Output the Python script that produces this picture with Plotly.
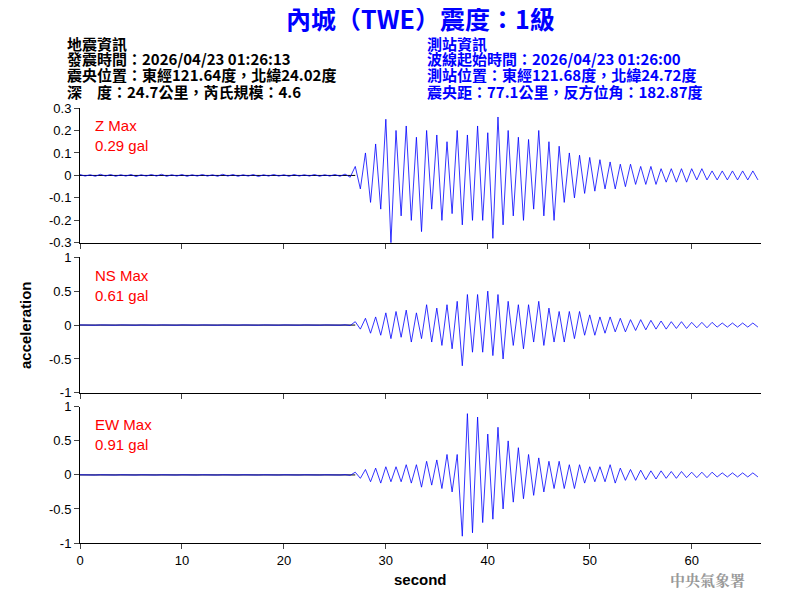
import plotly.graph_objects as go
from plotly.subplots import make_subplots

DT = 0.5  # sample spacing (s) of the envelope readings below

z_pre = [0.004,-0.003,0.003,-0.004,0.005,-0.003,0.004,-0.004,0.003,-0.003,
         0.004,-0.005,0.003,-0.003,0.004,-0.003,0.005,-0.004,0.003,-0.003,
         0.004,-0.004,0.003,-0.003,0.004,-0.003,0.003,-0.004,0.005,-0.003,
         0.004,-0.004,0.003,-0.003,0.004,-0.005,0.003,-0.003,0.004,-0.003,
         0.003,-0.004,0.004,-0.003,0.003,-0.003,0.004,-0.004,0.003,-0.003,
         0.004,-0.004,0.006,-0.008]
z_post = [0.04,-0.06,0.1,-0.12,
          0.14,-0.15,0.25,-0.3,
          0.2,-0.18,0.22,-0.2,0.17,-0.25,0.2,-0.15,
          0.18,-0.2,0.15,-0.17,0.2,-0.22,0.18,-0.2,
          0.22,-0.2,0.19,-0.28,0.26,-0.22,0.2,-0.18,
          0.17,-0.2,0.16,-0.15,0.2,-0.18,0.15,-0.2,
          0.13,-0.12,0.1,-0.1,0.09,-0.08,0.08,-0.07,
          0.07,-0.06,0.06,-0.06,0.05,-0.05,0.05,-0.04,
          0.04,-0.04,0.04,-0.04,0.03,-0.03,0.03,-0.03,
          0.03,-0.03,0.03,-0.02,0.03,-0.02,0.02,-0.02,
          0.02,-0.02,0.02,-0.02,0.02,-0.02,0.02,-0.02]

ns_pre = [0.002,-0.002]*26 + [0.004,-0.006]
ns_post = [0.05,-0.06,0.1,-0.12,
           0.12,-0.15,0.18,-0.2,
           0.2,-0.18,0.22,-0.25,0.18,-0.2,0.3,-0.25,
           0.25,-0.3,0.3,-0.35,0.35,-0.6,0.45,-0.4,
           0.45,-0.4,0.5,-0.45,0.45,-0.5,0.35,-0.3,
           0.3,-0.35,0.3,-0.25,0.35,-0.3,0.25,-0.25,
           0.2,-0.25,0.2,-0.2,0.2,-0.15,0.15,-0.15,
           0.12,-0.12,0.12,-0.1,0.1,-0.1,0.08,-0.08,
           0.08,-0.07,0.07,-0.06,0.06,-0.06,0.05,-0.05,
           0.05,-0.05,0.04,-0.04,0.04,-0.04,0.04,-0.03,
           0.03,-0.03,0.03,-0.03,0.03,-0.03,0.03,-0.03]

ew_pre = [0.002,-0.002]*26 + [0.004,-0.006]
ew_post = [0.04,-0.05,0.08,-0.1,
           0.1,-0.12,0.12,-0.1,
           0.12,-0.1,0.15,-0.12,0.15,-0.18,0.2,-0.15,
           0.22,-0.2,0.3,-0.25,0.3,-0.9,0.9,-0.85,
           0.85,-0.7,0.6,-0.65,0.7,-0.5,0.5,-0.4,
           0.4,-0.35,0.3,-0.3,0.25,-0.25,0.2,-0.2,
           0.2,-0.2,0.15,-0.2,0.15,-0.12,0.12,-0.1,
           0.12,-0.1,0.15,-0.12,0.1,-0.08,0.08,-0.08,
           0.07,-0.07,0.06,-0.06,0.06,-0.05,0.05,-0.05,
           0.05,-0.04,0.04,-0.04,0.04,-0.04,0.04,-0.03,
           0.03,-0.03,0.03,-0.03,0.03,-0.03,0.03,-0.03]

traces = [("Z Max", "0.29 gal", z_pre + z_post, 0.3, [-0.3,-0.2,-0.1,0,0.1,0.2,0.3]),
          ("NS Max", "0.61 gal", ns_pre + ns_post, 1, [-1,-0.5,0,0.5,1]),
          ("EW Max", "0.91 gal", ew_pre + ew_post, 1, [-1,-0.5,0,0.5,1])]

fig = make_subplots(rows=3, cols=1, shared_xaxes=True, vertical_spacing=0.033)
for i, (lab, val, ys, lim, ticks) in enumerate(traces, start=1):
    xs = [k * DT for k in range(len(ys))]
    fig.add_trace(go.Scatter(x=[0, 27], y=[0, 0], mode="lines",
                             line=dict(color="black", width=1), showlegend=False), row=i, col=1)
    fig.add_trace(go.Scatter(x=xs, y=ys, mode="lines",
                             line=dict(color="#0000ff", width=0.8), showlegend=False), row=i, col=1)
    fig.update_yaxes(range=[-lim, lim], tickvals=ticks,
                     ticktext=[("%g" % t) for t in ticks], row=i, col=1)

fig.update_yaxes(showline=True, linecolor="black", ticks="outside", ticklen=5, automargin=False,
                 showgrid=False, zeroline=False, tickfont=dict(size=13, color="black"))
fig.update_xaxes(showline=True, linecolor="black", ticks="outside", ticklen=5, automargin=False,
                 showgrid=False, zeroline=False, range=[0, 66.8], dtick=10,
                 tickfont=dict(size=13, color="black"))
fig.update_xaxes(showticklabels=True, row=3, col=1)
fig.update_layout(yaxis=dict(domain=[0.69, 1]), yaxis2=dict(domain=[0.345, 0.657]),
                  yaxis3=dict(domain=[0, 0.313]))

F = "Noto Sans CJK TC"
ann = [
    dict(x=0.5, y=1.207, text="<b>內城（TWE）震度：1級</b>", font=dict(size=25, color="#0000ff", family=F), xanchor="center"),
]
left = ["地震資訊", "發震時間：2026/04/23 01:26:13", "震央位置：東經121.64度，北緯24.02度", "深　度：24.7公里，芮氏規模：4.6"]
right = ["測站資訊", "波線起始時間：2026/04/23 01:26:00", "測站位置：東經121.68度，北緯24.72度", "震央距：77.1公里，反方位角：182.87度"]
ys_txt = [1.149, 1.113, 1.076, 1.039]
for t, yy in zip(left, ys_txt):
    ann.append(dict(x=-0.022, y=yy, text="<b>" + t + "</b>", xanchor="left", font=dict(size=15, color="black", family=F)))
for t, yy in zip(right, ys_txt):
    ann.append(dict(x=0.507, y=yy, text="<b>" + t + "</b>", xanchor="left", font=dict(size=15, color="#0000ff", family=F)))
for (lab, val, *_), top in zip(traces, [0.985, 0.640, 0.296]):
    ann.append(dict(x=0.019, y=top, text=lab + "<br>" + val, xanchor="left", yanchor="top", align="left",
                    font=dict(size=15, color="red", family="Arial")))
ann.append(dict(x=0.5, y=-0.085, text="<b>second</b>", xanchor="center", font=dict(size=15, color="black")))
ann.append(dict(x=-0.08, y=0.5, text="<b>acceleration</b>", textangle=-90, xanchor="center", font=dict(size=15, color="black")))
ann.append(dict(x=0.98, y=-0.085, text="<b>中央氣象署</b>", xanchor="right", font=dict(size=15, color="#999999", family="Noto Serif CJK TC, " + F)))
for a in ann:
    a.update(xref="paper", yref="paper", showarrow=False)
    a.setdefault("yanchor", "middle")
fig.update_layout(annotations=ann, width=800, height=600, plot_bgcolor="white", paper_bgcolor="white",
                  margin=dict(l=72, r=47, t=100, b=65), font=dict(family="Arial", color="black"))
fig.write_html("out.html")
